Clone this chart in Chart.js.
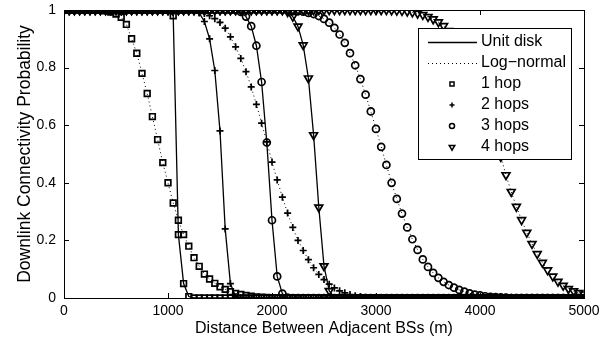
<!DOCTYPE html>
<html>
<head>
<meta charset="utf-8">
<script src="https://cdn.jsdelivr.net/npm/chart.js@4.4.1/dist/chart.umd.min.js"></script>
<style>
  html, body { margin: 0; padding: 0; background: #fff; }
</style>
</head>
<body>
<canvas id="chart" width="608" height="343"></canvas>
<script>
// distance between adjacent BSs (m), one sample every 50 m
const distances = [
  0, 50, 100, 150, 200, 250, 300, 350, 400, 450,
  500, 550, 600, 650, 700, 750, 800, 850, 900, 950,
  1000, 1050, 1100, 1150, 1200, 1250, 1300, 1350, 1400, 1450,
  1500, 1550, 1600, 1650, 1700, 1750, 1800, 1850, 1900, 1950,
  2000, 2050, 2100, 2150, 2200, 2250, 2300, 2350, 2400, 2450,
  2500, 2550, 2600, 2650, 2700, 2750, 2800, 2850, 2900, 2950,
  3000, 3050, 3100, 3150, 3200, 3250, 3300, 3350, 3400, 3450,
  3500, 3550, 3600, 3650, 3700, 3750, 3800, 3850, 3900, 3950,
  4000, 4050, 4100, 4150, 4200, 4250, 4300, 4350, 4400, 4450,
  4500, 4550, 4600, 4650, 4700, 4750, 4800, 4850, 4900, 4950,
  5000
];

// unit disk model
const unitDisk1 = [
  1, 1, 1, 1, 1, 1, 1, 1, 1, 1,
  1, 1, 1, 1, 1, 1, 1, 1, 1, 1,
  1, 0.98, 0.22, 0.05, 0.005, 0, 0, 0, 0, 0,
  0, 0, 0, 0, 0, 0, 0, 0, 0, 0,
  0, 0, 0, 0, 0, 0, 0, 0, 0, 0,
  0, 0, 0, 0, 0, 0, 0, 0, 0, 0,
  0, 0, 0, 0, 0, 0, 0, 0, 0, 0,
  0, 0, 0, 0, 0, 0, 0, 0, 0, 0,
  0, 0, 0, 0, 0, 0, 0, 0, 0, 0,
  0, 0, 0, 0, 0, 0, 0, 0, 0, 0,
  0
];
const unitDisk2 = [
  1, 1, 1, 1, 1, 1, 1, 1, 1, 1,
  1, 1, 1, 1, 1, 1, 1, 1, 1, 1,
  1, 1, 1, 1, 1, 1, 0.99, 0.96, 0.90, 0.79,
  0.58, 0.24, 0.05, 0.004, 0, 0, 0, 0, 0, 0,
  0, 0, 0, 0, 0, 0, 0, 0, 0, 0,
  0, 0, 0, 0, 0, 0, 0, 0, 0, 0,
  0, 0, 0, 0, 0, 0, 0, 0, 0, 0,
  0, 0, 0, 0, 0, 0, 0, 0, 0, 0,
  0, 0, 0, 0, 0, 0, 0, 0, 0, 0,
  0, 0, 0, 0, 0, 0, 0, 0, 0, 0,
  0
];
const unitDisk3 = [
  1, 1, 1, 1, 1, 1, 1, 1, 1, 1,
  1, 1, 1, 1, 1, 1, 1, 1, 1, 1,
  1, 1, 1, 1, 1, 1, 1, 1, 1, 1,
  1, 1, 1, 1, 0.993, 0.977, 0.944, 0.876, 0.75, 0.54,
  0.27, 0.075, 0.015, 0.001, 0, 0, 0, 0, 0, 0,
  0, 0, 0, 0, 0, 0, 0, 0, 0, 0,
  0, 0, 0, 0, 0, 0, 0, 0, 0, 0,
  0, 0, 0, 0, 0, 0, 0, 0, 0, 0,
  0, 0, 0, 0, 0, 0, 0, 0, 0, 0,
  0, 0, 0, 0, 0, 0, 0, 0, 0, 0,
  0
];
const unitDisk4 = [
  1, 1, 1, 1, 1, 1, 1, 1, 1, 1,
  1, 1, 1, 1, 1, 1, 1, 1, 1, 1,
  1, 1, 1, 1, 1, 1, 1, 1, 1, 1,
  1, 1, 1, 1, 1, 1, 1, 1, 1, 1,
  1, 1, 1, 0.993, 0.977, 0.943, 0.878, 0.763, 0.566, 0.315,
  0.111, 0.025, 0.002, 0, 0, 0, 0, 0, 0, 0,
  0, 0, 0, 0, 0, 0, 0, 0, 0, 0,
  0, 0, 0, 0, 0, 0, 0, 0, 0, 0,
  0, 0, 0, 0, 0, 0, 0, 0, 0, 0,
  0, 0, 0, 0, 0, 0, 0, 0, 0, 0,
  0
];

// log-normal shadowing model
const logNormal1 = [
  1, 1, 1, 1, 1, 1, 1, 0.999, 0.997, 0.993,
  0.986, 0.975, 0.95, 0.90, 0.85, 0.78, 0.71, 0.63, 0.55, 0.47,
  0.40, 0.33, 0.27, 0.22, 0.18, 0.14, 0.11, 0.083, 0.066, 0.051,
  0.039, 0.03, 0.022, 0.016, 0.012, 0.009, 0.006, 0.004, 0.003, 0.002,
  0.001, 0, 0, 0, 0, 0, 0, 0, 0, 0,
  0, 0, 0, 0, 0, 0, 0, 0, 0, 0,
  0, 0, 0, 0, 0, 0, 0, 0, 0, 0,
  0, 0, 0, 0, 0, 0, 0, 0, 0, 0,
  0, 0, 0, 0, 0, 0, 0, 0, 0, 0,
  0, 0, 0, 0, 0, 0, 0, 0, 0, 0,
  0
];
const logNormal2 = [
  1, 1, 1, 1, 1, 1, 1, 1, 1, 1,
  1, 1, 1, 1, 1, 1, 1, 1, 1, 1,
  1, 1, 1, 0.999, 0.998, 0.996, 0.993, 0.988, 0.98, 0.97,
  0.957, 0.937, 0.907, 0.872, 0.832, 0.786, 0.733, 0.672, 0.607, 0.542,
  0.472, 0.41, 0.35, 0.295, 0.245, 0.20, 0.165, 0.133, 0.105, 0.082,
  0.064, 0.048, 0.035, 0.025, 0.018, 0.012, 0.008, 0.005, 0.003, 0.002,
  0.001, 0, 0, 0, 0, 0, 0, 0, 0, 0,
  0, 0, 0, 0, 0, 0, 0, 0, 0, 0,
  0, 0, 0, 0, 0, 0, 0, 0, 0, 0,
  0, 0, 0, 0, 0, 0, 0, 0, 0, 0,
  0
];
const logNormal3 = [
  1, 1, 1, 1, 1, 1, 1, 1, 1, 1,
  1, 1, 1, 1, 1, 1, 1, 1, 1, 1,
  1, 1, 1, 1, 1, 1, 1, 1, 1, 1,
  1, 1, 1, 1, 1, 1, 1, 1, 1, 1,
  1, 1, 1, 0.999, 0.998, 0.996, 0.994, 0.99, 0.986, 0.979,
  0.969, 0.956, 0.938, 0.915, 0.886, 0.85, 0.808, 0.76, 0.706, 0.648,
  0.587, 0.525, 0.462, 0.40, 0.344, 0.293, 0.245, 0.204, 0.167, 0.134,
  0.108, 0.087, 0.07, 0.056, 0.045, 0.036, 0.028, 0.022, 0.016, 0.012,
  0.009, 0.006, 0.004, 0.003, 0.002, 0.001, 0, 0, 0, 0,
  0, 0, 0, 0, 0, 0, 0, 0, 0, 0,
  0
];
const logNormal4 = [
  1, 1, 1, 1, 1, 1, 1, 1, 1, 1,
  1, 1, 1, 1, 1, 1, 1, 1, 1, 1,
  1, 1, 1, 1, 1, 1, 1, 1, 1, 1,
  1, 1, 1, 1, 1, 1, 1, 1, 1, 1,
  1, 1, 1, 1, 1, 1, 1, 1, 1, 1,
  1, 1, 1, 1, 1, 1, 1, 1, 1, 1,
  1, 1, 1, 0.999, 0.998, 0.997, 0.995, 0.992, 0.988, 0.983,
  0.976, 0.968, 0.958, 0.945, 0.928, 0.905, 0.876, 0.842, 0.803, 0.76,
  0.713, 0.663, 0.61, 0.555, 0.49, 0.427, 0.369, 0.317, 0.271, 0.227,
  0.188, 0.153, 0.123, 0.097, 0.075, 0.057, 0.043, 0.032, 0.024, 0.018,
  0.013
];

const yTicks = [0, 0.2, 0.4, 0.6, 0.8, 1];
const xTicks = [0, 1000, 2000, 3000, 4000, 5000];
const modelLabels = ['Unit disk', 'Log\u2212normal'];
const hopLabels = ['1 hop', '2 hops', '3 hops', '4 hops'];
const hopMarkers = ['rect', 'cross', 'circle', 'triangle'];

const FONT = '"Liberation Sans", Arial, Helvetica, sans-serif';

function markerSize(style) {
  if (style === 'rect') return 4;
  if (style === 'triangle') return 4.5;
  return 3.5;
}

function series(values, hop, dotted) {
  const style = hopMarkers[hop];
  return {
    label: modelLabels[dotted ? 1 : 0] + ' ' + hopLabels[hop],
    data: distances.map((d, i) => ({ x: d, y: values[i] })),
    borderColor: '#000',
    borderWidth: dotted ? 1 : 1.3,
    borderDash: dotted ? [1, 3] : [],
    pointStyle: style,
    pointRadius: markerSize(style),
    pointRotation: style === 'triangle' ? 180 : 0,
    pointBorderColor: '#000',
    pointBackgroundColor: 'rgba(0,0,0,0)',
    pointBorderWidth: 1.7,
    fill: false,
    tension: 0
  };
}

const unitDisk = [unitDisk1, unitDisk2, unitDisk3, unitDisk4];
const logNormal = [logNormal1, logNormal2, logNormal3, logNormal4];
const datasets = [];
unitDisk.forEach((v, i) => datasets.push(series(v, i, false)));
logNormal.forEach((v, i) => datasets.push(series(v, i, true)));

// MATLAB-like box with inward ticks on all four sides
const boxPlugin = {
  id: 'box',
  beforeDatasetsDraw(chart) {
    const { ctx, chartArea: a, scales: { x, y } } = chart;
    ctx.save();
    ctx.strokeStyle = '#000';
    ctx.lineWidth = 1;
    ctx.strokeRect(a.left + 0.5, a.top + 0.5, a.right - a.left, a.bottom - a.top);
    ctx.beginPath();
    xTicks.forEach(v => {
      const px = Math.round(x.getPixelForValue(v)) + 0.5;
      ctx.moveTo(px, a.bottom); ctx.lineTo(px, a.bottom - 5);
      ctx.moveTo(px, a.top); ctx.lineTo(px, a.top + 5);
    });
    yTicks.forEach(v => {
      const py = Math.round(y.getPixelForValue(v)) + 0.5;
      ctx.moveTo(a.left, py); ctx.lineTo(a.left + 5, py);
      ctx.moveTo(a.right, py); ctx.lineTo(a.right - 5, py);
    });
    ctx.stroke();
    ctx.restore();
  }
};

// legend box in the upper right corner of the axes
const legendPlugin = {
  id: 'boxLegend',
  afterDatasetsDraw(chart) {
    const { ctx } = chart;
    const left = 418, top = 28, w = 153, h = 131;
    const rowY = [42, 63, 84, 105, 126, 147];
    ctx.save();
    ctx.fillStyle = '#fff';
    ctx.fillRect(left, top, w, h);
    ctx.strokeStyle = '#000';
    ctx.lineWidth = 1;
    ctx.strokeRect(left + 0.5, top + 0.5, w, h);

    ctx.font = '16px ' + FONT;
    ctx.textBaseline = 'middle';
    ctx.textAlign = 'left';

    modelLabels.forEach((txt, i) => {
      ctx.beginPath();
      ctx.lineWidth = i === 0 ? 1.3 : 1;
      ctx.setLineDash(i === 0 ? [] : [1, 3]);
      ctx.moveTo(428, rowY[i] + 0.5);
      ctx.lineTo(477, rowY[i] + 0.5);
      ctx.stroke();
      ctx.setLineDash([]);
      ctx.fillStyle = '#000';
      ctx.fillText(txt, 481, rowY[i]);
    });

    hopLabels.forEach((txt, i) => {
      const style = hopMarkers[i];
      const yy = rowY[i + 2];
      ctx.fillStyle = 'rgba(0,0,0,0)';
      ctx.strokeStyle = '#000';
      ctx.lineWidth = 1.5;
      Chart.helpers.drawPoint(ctx, {
        pointStyle: style,
        radius: markerSize(style) * 0.72,
        rotation: style === 'triangle' ? 180 : 0,
        borderWidth: 1.5
      }, 452, yy);
      ctx.fillStyle = '#000';
      ctx.fillText(txt, 481, yy);
    });
    ctx.restore();
  }
};

new Chart(document.getElementById('chart').getContext('2d'), {
  type: 'line',
  data: { datasets: datasets },
  options: {
    responsive: false,
    devicePixelRatio: 1,
    animation: false,
    layout: { padding: { top: 10, right: 24, left: 0, bottom: 0 } },
    plugins: {
      legend: { display: false },
      tooltip: { enabled: false }
    },
    scales: {
      x: {
        type: 'linear',
        min: 0,
        max: 5000,
        afterBuildTicks: s => { s.ticks = xTicks.map(v => ({ value: v })); },
        afterFit: s => { s.height = 45; s.paddingLeft = 0; s.paddingRight = 0; },
        grid: { display: false, drawTicks: false },
        border: { display: false },
        ticks: {
          color: '#000', padding: 5, maxRotation: 0,
          font: { family: FONT, size: 14 },
          callback: v => String(v)
        },
        title: {
          display: true,
          text: 'Distance Between Adjacent BSs (m)',
          color: '#000',
          padding: { top: 0, bottom: 5 },
          font: { family: FONT, size: 16 }
        }
      },
      y: {
        type: 'linear',
        min: 0,
        max: 1,
        afterBuildTicks: s => { s.ticks = yTicks.map(v => ({ value: v })); },
        afterFit: s => { s.width = 64; s.paddingTop = 0; s.paddingBottom = 0; },
        grid: { display: false, drawTicks: false },
        border: { display: false },
        ticks: {
          color: '#000', padding: 8,
          font: { family: FONT, size: 14 },
          callback: v => String(v)
        },
        title: {
          display: true,
          text: 'Downlink Connectivity Probability',
          color: '#000',
          padding: { top: 15, bottom: 0 },
          font: { family: FONT, size: 17.5 }
        }
      }
    }
  },
  plugins: [boxPlugin, legendPlugin]
});
</script>
</body>
</html>
